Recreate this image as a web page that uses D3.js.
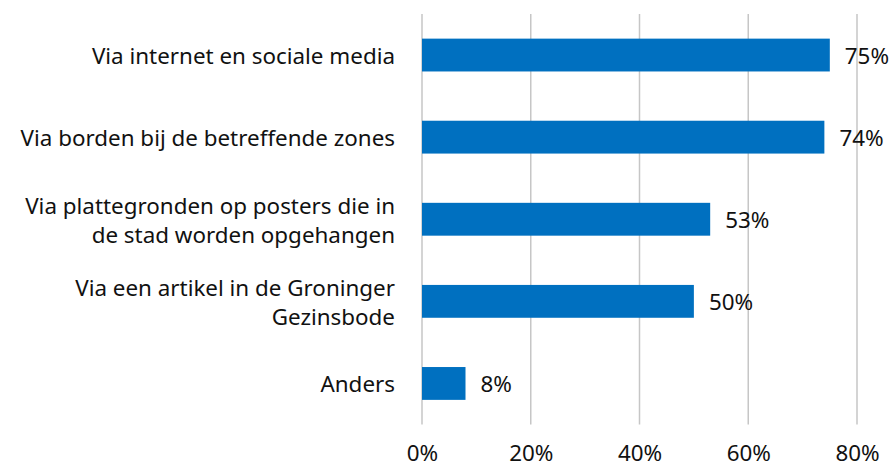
<!DOCTYPE html>
<html>
<head>
<meta charset="utf-8">
<script src="https://cdn.jsdelivr.net/npm/d3@7"></script>
<style>
  body { margin: 0; background: #fff; }
  text { font-family: "Noto Sans", "Open Sans", sans-serif; fill: #111; }
</style>
</head>
<body>
<script>
// categories (each entry is a list of lines) and values in percent
var categories = [
  ["Via internet en sociale media"],
  ["Via borden bij de betreffende zones"],
  ["Via plattegronden op posters die in", "de stad worden opgehangen"],
  ["Via een artikel in de Groninger", "Gezinsbode"],
  ["Anders"]
];
var values = [75, 74, 53, 50, 8];
var tickValues = [0, 20, 40, 60, 80];

var w = 894;
var h = 468;
var plotLeft = 422;
var plotRight = 857;
var plotTop = 14;
var plotBottom = 424.5;
var fontSize = 22.4;

var svg = d3.select("body")
  .append("svg")
  .attr("width", w)
  .attr("height", h);

var x = d3.scaleLinear()
  .domain([0, 80])
  .range([plotLeft, plotRight]);

var y = d3.scaleBand()
  .domain(d3.range(categories.length))
  .range([plotTop, plotBottom])
  .paddingInner(0.6)
  .paddingOuter(0.3);

// gridlines
svg.selectAll(".grid")
  .data(tickValues)
  .enter()
  .append("line")
  .attr("x1", function(d) { return x(d); })
  .attr("x2", function(d) { return x(d); })
  .attr("y1", plotTop)
  .attr("y2", plotBottom)
  .attr("stroke", "#c6c6c6")
  .attr("stroke-width", 1.5);

// x axis tick labels
var xAxis = d3.axisBottom(x)
  .tickValues(tickValues)
  .tickSize(0)
  .tickPadding(0)
  .tickFormat(function(d) { return d + "%"; });

var gx = svg.append("g")
  .attr("transform", "translate(0," + (plotBottom + 21) + ")")
  .call(xAxis);
gx.attr("font-size", fontSize).attr("font-family", null);
gx.select(".domain").remove();
gx.selectAll("text").attr("fill", "#111");

// bars
svg.selectAll(".bar")
  .data(values)
  .enter()
  .append("rect")
  .attr("x", x(0))
  .attr("y", function(d, i) { return y(i); })
  .attr("width", function(d) { return x(d) - x(0); })
  .attr("height", y.bandwidth())
  .attr("fill", "#0070c0");

// value labels
svg.selectAll(".value")
  .data(values)
  .enter()
  .append("text")
  .attr("x", function(d) { return x(d) + 15; })
  .attr("y", function(d, i) { return y(i) + y.bandwidth() / 2 + 1; })
  .attr("dy", "0.35em")
  .attr("font-size", fontSize)
  .text(function(d) { return d + "%"; });

// category labels
var lineHeight = 29;
var labels = svg.selectAll(".cat")
  .data(categories)
  .enter()
  .append("text")
  .attr("text-anchor", "end")
  .attr("font-size", fontSize)
  .attr("transform", function(d, i) {
    var cy = y(i) + y.bandwidth() / 2;
    return "translate(" + (plotLeft - 27) + "," + (cy - (d.length - 1) * lineHeight / 2 + 1) + ")";
  });

labels.selectAll("tspan")
  .data(function(d) { return d; })
  .enter()
  .append("tspan")
  .attr("x", 0)
  .attr("y", function(d, j) { return j * lineHeight; })
  .attr("dy", "0.35em")
  .text(function(d) { return d; });
</script>
</body>
</html>
